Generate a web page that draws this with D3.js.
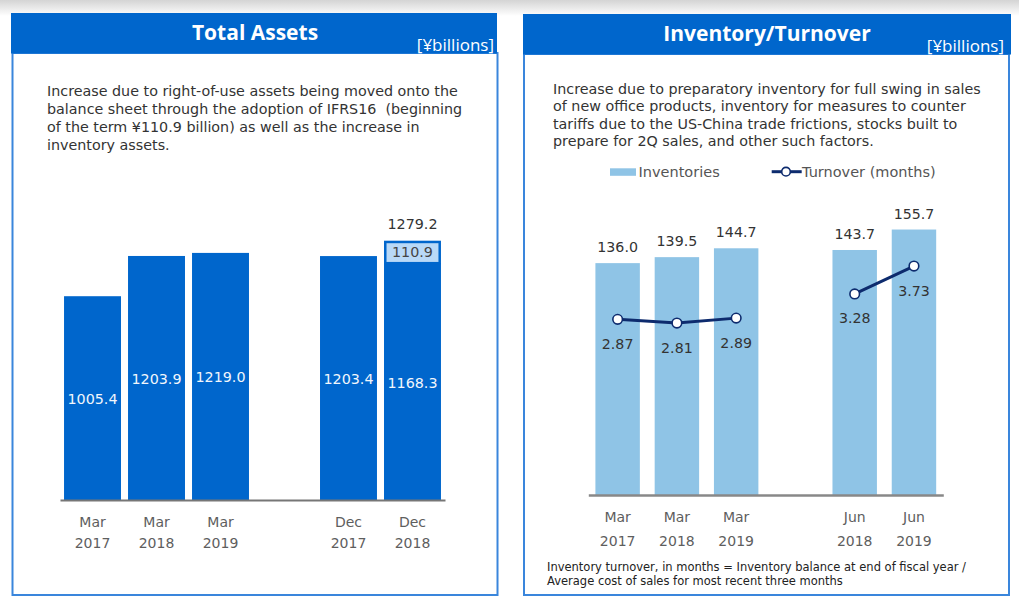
<!DOCTYPE html>
<html>
<head>
<meta charset="utf-8">
<script src="https://cdn.jsdelivr.net/npm/d3@7"></script>
<style>
  html, body { margin: 0; padding: 0; background: #fff; }
  svg { display: block; }
</style>
</head>
<body>
<svg id="chart" width="1019" height="607"></svg>
<script>
// ---------- DATA ----------
const assetCategories = ["Mar 2017", "Mar 2018", "Mar 2019", "", "Dec 2017", "Dec 2018"];
const assetBase = [1005.4, 1203.9, 1219.0, null, 1203.4, 1168.3];
const assetIfrs16 = [0, 0, 0, null, 0, 110.9];
const assetTotals = [null, null, null, null, null, 1279.2];

const invCategories = ["Mar 2017", "Mar 2018", "Mar 2019", "", "Jun 2018", "Jun 2019"];
const inventories = [136.0, 139.5, 144.7, null, 143.7, 155.7];
const turnover = [2.87, 2.81, 2.89, null, 3.28, 3.73];

const leftTitle = "Total Assets";
const rightTitle = "Inventory/Turnover";
const unitLabel = "[¥billions]";
const leftText = [
  "Increase due to right-of-use assets being moved onto the",
  "balance sheet through the adoption of IFRS16  (beginning",
  "of the term ¥110.9 billion) as well as the increase in",
  "inventory assets."
];
const rightText = [
  "Increase due to preparatory inventory for full swing in sales",
  "of new office products, inventory for measures to counter",
  "tariffs due to the US-China trade frictions, stocks built to",
  "prepare for 2Q sales, and other such factors."
];
const footnote = [
  "Inventory turnover, in months = Inventory balance at end of fiscal year /",
  "Average cost of sales for most recent three months"
];
const legendLabels = ["Inventories", "Turnover (months)"];

// ---------- STYLE ----------
const BLUE = "#0066cc";
const LIGHT = "#8fc4e6";
const NAVY = "#0d2b6e";
const bodyFont = "'DejaVu Sans', Verdana, sans-serif";
const headFont = "'Open Sans', 'Noto Sans', sans-serif";

const svg = d3.select("#chart");
const defs = svg.append("defs");
const grad = defs.append("linearGradient").attr("id", "topShade")
  .attr("x1", 0).attr("y1", 0).attr("x2", 0).attr("y2", 1);
grad.append("stop").attr("offset", "0%").attr("stop-color", "#d4d4d4");
grad.append("stop").attr("offset", "100%").attr("stop-color", "#ffffff");
svg.append("rect").attr("x", 0).attr("y", 0).attr("width", 1019).attr("height", 16)
  .attr("fill", "url(#topShade)");

// ---------- PANELS ----------
function panel(hx, hw, bx, bw, title, titleCx, unitRight, hy) {
  svg.append("rect").attr("x", bx).attr("y", hy + 40).attr("width", bw).attr("height", 595 - hy - 40)
    .attr("fill", "#fff").attr("stroke", "#3a86dc").attr("stroke-width", 2);
  svg.append("rect").attr("x", hx).attr("y", hy).attr("width", hw).attr("height", 40.5)
    .attr("fill", BLUE);
  svg.append("text").attr("x", titleCx).attr("y", hy + 27)
    .attr("text-anchor", "middle").attr("fill", "#fff")
    .style("font-family", headFont).style("font-weight", "bold").style("font-size", "21px")
    .text(title);
  svg.append("text").attr("x", unitRight).attr("y", hy + 38)
    .attr("text-anchor", "end").attr("fill", "#fff")
    .style("font-family", headFont).style("font-size", "17px")
    .text(unitLabel);
}
panel(11, 486, 12.5, 485, leftTitle, 255, 494, 13);
panel(523, 488, 524, 485, rightTitle, 767, 1004, 14);

function paragraph(lines, x, y0, lh, size, color) {
  const t = svg.append("text").attr("fill", color)
    .style("font-family", bodyFont).style("font-size", size + "px");
  lines.forEach((l, i) => {
    t.append("tspan").attr("x", x).attr("y", y0 + i * lh).attr("dy", "0.35em")
      .style("white-space", "pre").text(l);
  });
  t.attr("xml:space", "preserve");
}
paragraph(leftText, 47, 91, 18, 14.3, "#333");
paragraph(rightText, 553, 88.5, 17.6, 14.3, "#333");
paragraph(footnote, 547, 567.3, 13.4, 11.5, "#222");

// ---------- LEFT CHART: TOTAL ASSETS ----------
const xL = d3.scaleBand().domain(assetCategories).range([60, 445])
  .paddingInner(0.11).paddingOuter(0.063);
const yL = d3.scaleLinear().domain([0, 1400]).range([500, 500 - 1400 * 0.2027]);

const gL = svg.append("g");
const idxL = assetCategories.map((c, i) => i).filter(i => assetBase[i] != null);

gL.selectAll("rect.base").data(idxL).join("rect").attr("class", "base")
  .attr("x", i => xL(assetCategories[i]))
  .attr("width", xL.bandwidth())
  .attr("y", i => yL(assetBase[i]))
  .attr("height", i => yL(0) - yL(assetBase[i]))
  .attr("fill", BLUE);

gL.selectAll("rect.ifrs").data(idxL.filter(i => assetIfrs16[i] > 0)).join("rect").attr("class", "ifrs")
  .attr("x", i => xL(assetCategories[i]) + 1.25)
  .attr("width", xL.bandwidth() - 2.5)
  .attr("y", i => yL(assetBase[i] + assetIfrs16[i]) + 1.25)
  .attr("height", i => yL(assetBase[i]) - yL(assetBase[i] + assetIfrs16[i]) - 1.25)
  .attr("fill", "#b9d9f7").attr("stroke", BLUE).attr("stroke-width", 2.5);

gL.selectAll("text.inbar").data(idxL).join("text").attr("class", "inbar")
  .attr("x", i => xL(assetCategories[i]) + xL.bandwidth() / 2)
  .attr("y", i => (yL(assetBase[i]) + yL(0)) / 2 + 1)
  .attr("dy", "0.35em").attr("text-anchor", "middle").attr("fill", "#f2f6fc")
  .style("font-family", bodyFont).style("font-size", "14.3px")
  .text(i => assetBase[i].toFixed(1));

gL.selectAll("text.ifrsLbl").data(idxL.filter(i => assetIfrs16[i] > 0)).join("text").attr("class", "ifrsLbl")
  .attr("x", i => xL(assetCategories[i]) + xL.bandwidth() / 2)
  .attr("y", i => (yL(assetBase[i]) + yL(assetBase[i] + assetIfrs16[i])) / 2)
  .attr("dy", "0.35em").attr("text-anchor", "middle").attr("fill", "#444")
  .style("font-family", bodyFont).style("font-size", "14.3px")
  .text(i => assetIfrs16[i].toFixed(1));

gL.selectAll("text.total").data(idxL.filter(i => assetTotals[i] != null)).join("text").attr("class", "total")
  .attr("x", i => xL(assetCategories[i]) + xL.bandwidth() / 2)
  .attr("y", i => yL(assetTotals[i]) - 16.5)
  .attr("dy", "0.35em").attr("text-anchor", "middle").attr("fill", "#333")
  .style("font-family", bodyFont).style("font-size", "14.3px")
  .text(i => assetTotals[i].toFixed(1));

function catAxis(x, y, color, stroke, sw, l1, l2) {
  const ax = svg.append("g").attr("transform", `translate(0,${y})`)
    .call(d3.axisBottom(x).tickSize(0).tickSizeOuter(0).tickPadding(0));
  ax.select(".domain").attr("stroke", stroke).attr("stroke-width", sw);
  ax.selectAll(".tick").filter(d => d === "").remove();
  ax.selectAll(".tick text").each(function (d) {
    const parts = d.split(" ");
    const t = d3.select(this).text(null).attr("fill", color).attr("dy", null).attr("y", 0)
      .style("font-family", bodyFont).style("font-size", "14px");
    t.append("tspan").attr("x", 0).attr("y", l1).attr("dy", "0.35em").text(parts[0]);
    t.append("tspan").attr("x", 0).attr("y", l2).attr("dy", "0.35em").text(parts[1]);
  });
  return ax;
}
catAxis(xL, 500, "#5e5e5e", "#767676", 2, 21.7, 43);

// ---------- RIGHT CHART: INVENTORY / TURNOVER ----------
const xR = d3.scaleBand().domain(invCategories).range([588.3, 943.3])
  .paddingInner(0.25).paddingOuter(0.12);
const yR = d3.scaleLinear().domain([0, 180]).range([495, 495 - 180 * 1.705]);
const yT = d3.scaleLinear().domain([0, 5]).range([497.3, 497.3 - 5 * 62]);

const gR = svg.append("g");
const idxR = invCategories.map((c, i) => i).filter(i => inventories[i] != null);

gR.selectAll("rect.inv").data(idxR).join("rect").attr("class", "inv")
  .attr("x", i => xR(invCategories[i]))
  .attr("width", xR.bandwidth())
  .attr("y", i => yR(inventories[i]))
  .attr("height", i => yR(0) - yR(inventories[i]))
  .attr("fill", LIGHT);

gR.selectAll("text.invLbl").data(idxR).join("text").attr("class", "invLbl")
  .attr("x", i => xR(invCategories[i]) + xR.bandwidth() / 2)
  .attr("y", i => yR(inventories[i]) - 16)
  .attr("dy", "0.35em").attr("text-anchor", "middle").attr("fill", "#333")
  .style("font-family", bodyFont).style("font-size", "14.2px")
  .text(i => inventories[i].toFixed(1));

catAxis(xR, 495, "#5e5e5e", "#888", 2.5, 21.7, 45.7);

const cx = i => xR(invCategories[i]) + xR.bandwidth() / 2;
const line = d3.line()
  .defined(i => turnover[i] != null)
  .x(i => cx(i))
  .y(i => yT(turnover[i]));
gR.append("path").datum(invCategories.map((c, i) => i))
  .attr("d", line).attr("fill", "none").attr("stroke", NAVY).attr("stroke-width", 3);

const idxT = invCategories.map((c, i) => i).filter(i => turnover[i] != null);
gR.selectAll("circle.pt").data(idxT).join("circle").attr("class", "pt")
  .attr("cx", i => cx(i)).attr("cy", i => yT(turnover[i])).attr("r", 4.8)
  .attr("fill", "#fff").attr("stroke", NAVY).attr("stroke-width", 1.6);

gR.selectAll("text.tLbl").data(idxT).join("text").attr("class", "tLbl")
  .attr("x", i => cx(i)).attr("y", i => yT(turnover[i]) + 24.5)
  .attr("dy", "0.35em").attr("text-anchor", "middle").attr("fill", "#333")
  .style("font-family", bodyFont).style("font-size", "14.2px")
  .text(i => turnover[i].toFixed(2));

// legend
const lg = svg.append("g");
lg.append("rect").attr("x", 610).attr("y", 168.3).attr("width", 26).attr("height", 7.5).attr("fill", LIGHT);
lg.append("text").attr("x", 638.5).attr("y", 171.7).attr("dy", "0.35em").attr("fill", "#555")
  .style("font-family", bodyFont).style("font-size", "14.5px").text(legendLabels[0]);
lg.append("line").attr("x1", 771.7).attr("x2", 801.7).attr("y1", 171.7).attr("y2", 171.7)
  .attr("stroke", NAVY).attr("stroke-width", 3);
lg.append("circle").attr("cx", 786).attr("cy", 171.7).attr("r", 4.3)
  .attr("fill", "#fff").attr("stroke", NAVY).attr("stroke-width", 1.6);
lg.append("text").attr("x", 802).attr("y", 171.7).attr("dy", "0.35em").attr("fill", "#555")
  .style("font-family", bodyFont).style("font-size", "14.5px").text(legendLabels[1]);
</script>
</body>
</html>
